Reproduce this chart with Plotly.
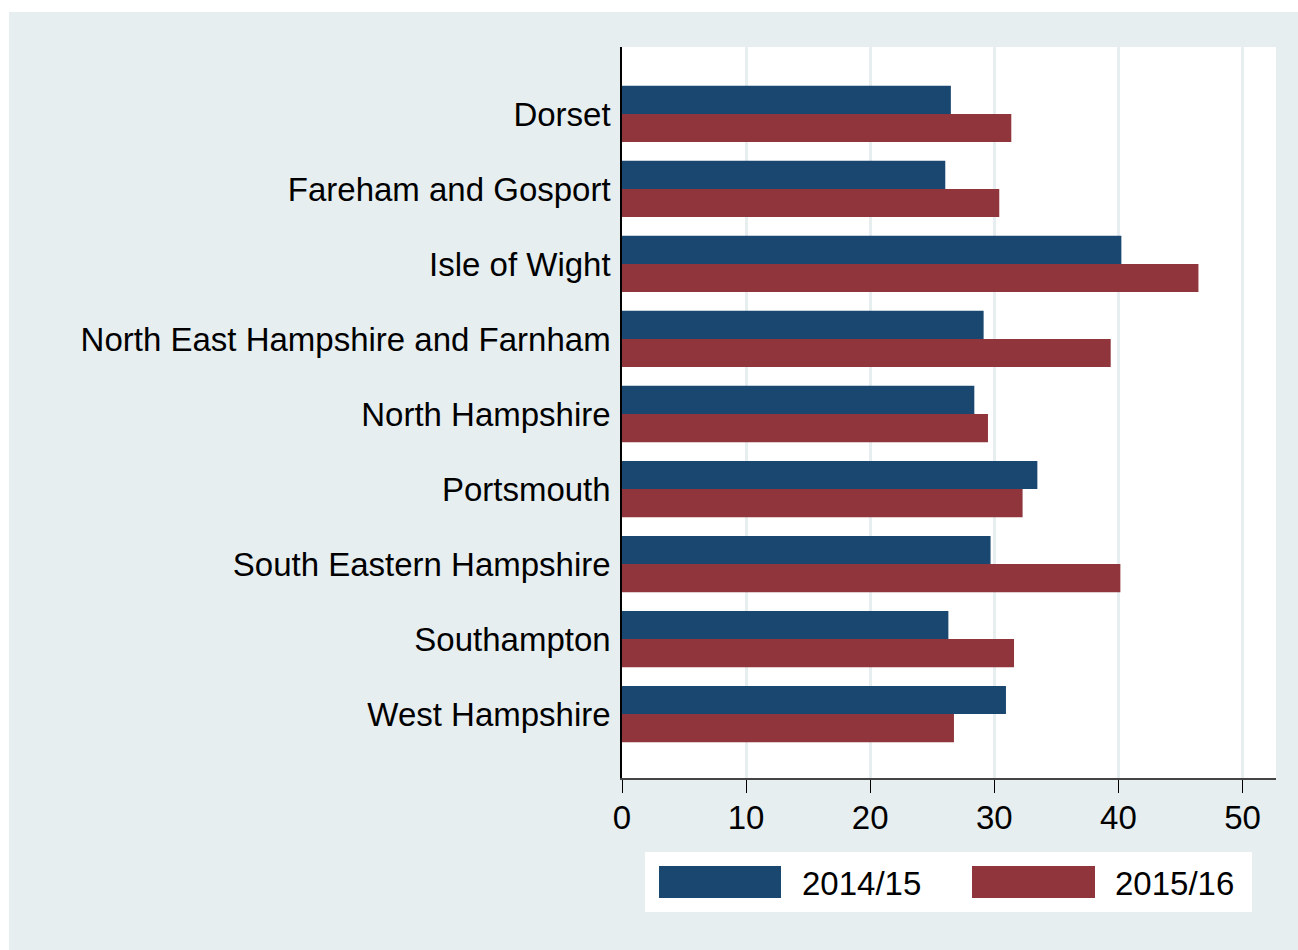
import plotly.graph_objects as go

categories = ["Dorset", "Fareham and Gosport", "Isle of Wight",
              "North East Hampshire and Farnham", "North Hampshire",
              "Portsmouth", "South Eastern Hampshire", "Southampton",
              "West Hampshire"]
series_names = ["2014/15", "2015/16"]
values_2014 = [26.5, 26.05, 40.24, 29.14, 28.39, 33.47, 29.7, 26.3, 30.94]
values_2015 = [31.37, 30.4, 46.45, 39.38, 29.49, 32.28, 40.16, 31.59, 26.75]
x_ticks = [0, 10, 20, 30, 40, 50]

NAVY = "#1a476f"
MAROON = "#90353b"
BG = "#e7eef0"
FONT = "Liberation Sans, Arial, sans-serif"
FS = 33

W, H = 1298, 950
L, R, T, B = 622, 1276, 47, 778

fig = go.Figure()
fig.add_trace(go.Bar(y=categories, x=values_2014, orientation="h", name=series_names[0],
                     marker=dict(color=NAVY, line=dict(width=0)), showlegend=False))
fig.add_trace(go.Bar(y=categories, x=values_2015, orientation="h", name=series_names[1],
                     marker=dict(color=MAROON, line=dict(width=0)), showlegend=False))


def px(xp):
    return (xp - L) / (R - L)


def py(yp):
    return (B - yp) / (B - T)


shapes = [
    # white border strips (top and left)
    dict(type="rect", xref="paper", yref="paper", x0=px(0), x1=px(1300), y0=py(0), y1=py(12),
         fillcolor="white", line=dict(width=0), layer="above"),
    dict(type="rect", xref="paper", yref="paper", x0=px(0), x1=px(9), y0=py(0), y1=py(952),
         fillcolor="white", line=dict(width=0), layer="above"),
    # legend box
    dict(type="rect", xref="paper", yref="paper", x0=px(645), x1=px(1252), y0=py(852), y1=py(912),
         fillcolor="white", line=dict(width=0)),
    dict(type="rect", xref="paper", yref="paper", x0=px(659), x1=px(781), y0=py(866), y1=py(898),
         fillcolor=NAVY, line=dict(width=0)),
    dict(type="rect", xref="paper", yref="paper", x0=px(972), x1=px(1095), y0=py(866), y1=py(898),
         fillcolor=MAROON, line=dict(width=0)),
]
annotations = [
    dict(text=series_names[0], xref="paper", yref="paper", x=px(800), y=py(883),
         xanchor="left", yanchor="middle", showarrow=False,
         font=dict(family=FONT, size=FS, color="black")),
    dict(text=series_names[1], xref="paper", yref="paper", x=px(1113), y=py(883),
         xanchor="left", yanchor="middle", showarrow=False,
         font=dict(family=FONT, size=FS, color="black")),
]

fig.update_layout(
    width=W, height=H,
    margin=dict(l=L, r=W - R, t=T, b=H - B, pad=0),
    paper_bgcolor=BG, plot_bgcolor="white",
    barmode="group", bargap=0.25, bargroupgap=0,
    font=dict(family=FONT, size=FS, color="black"),
    shapes=shapes, annotations=annotations,
    xaxis=dict(range=[0, 52.7], tickvals=x_ticks, ticktext=[str(v) for v in x_ticks],
               showgrid=True, gridcolor=BG, gridwidth=2.5,
               zeroline=False, showline=True, linecolor="#444444", linewidth=1.5,
               ticks="outside", ticklen=13, tickcolor="black", tickwidth=1,
               ticklabelstandoff=-3,
               tickfont=dict(family=FONT, size=FS, color="black")),
    yaxis=dict(type="category", range=[8.853, -0.893],
               showgrid=False, zeroline=False, showline=True, linecolor="black", linewidth=1.5,
               ticks="", ticklabelstandoff=3,
               tickfont=dict(family=FONT, size=FS, color="black")),
)

fig.write_html("out.html", config={"displayModeBar": False},
               post_script="document.body.style.margin='0';document.body.style.overflow='hidden';")
